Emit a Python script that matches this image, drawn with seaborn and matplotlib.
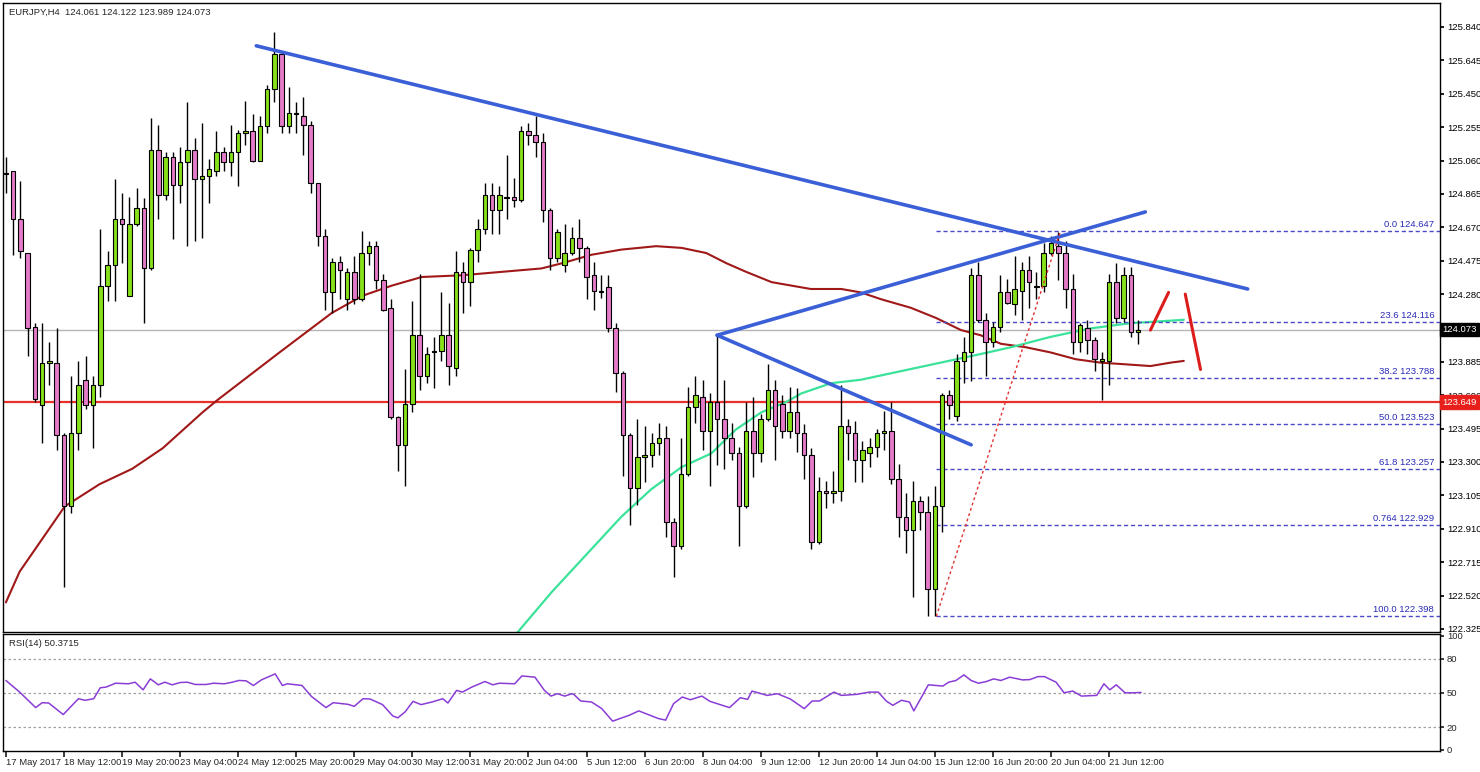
import matplotlib
matplotlib.use("Agg")
import matplotlib.pyplot as plt
import matplotlib.transforms as mtransforms
import seaborn as sns
import numpy as np
import pandas as pd

sns.set_theme(style="white")
plt.rcParams['font.family'] = ['Liberation Sans', 'DejaVu Sans']

opens = [124.99,125.00,124.72,124.52,124.09,123.63,123.88,123.88,123.46,123.04,123.47,123.78,123.63,123.75,124.33,124.45,124.72,124.27,124.69,124.78,
         124.43,125.12,124.86,125.08,124.92,125.05,125.12,124.95,124.97,125.00,125.11,125.05,125.11,125.22,125.23,125.06,125.26,125.48,125.68,125.26,
         125.34,125.32,125.27,124.93,124.62,124.29,124.47,124.25,124.41,124.25,124.52,124.56,124.36,124.20,123.56,123.40,123.64,124.04,123.80,123.95,
         123.95,124.04,123.85,124.41,124.35,124.54,124.66,124.86,124.77,124.85,124.85,124.83,125.23,125.21,125.17,124.77,124.49,124.45,124.52,124.61,
         124.55,124.39,124.30,124.32,124.08,123.82,123.46,123.15,123.33,123.34,123.41,123.44,122.95,122.81,123.23,123.62,123.68,123.48,123.65,123.55,
         123.44,123.35,123.04,123.48,123.35,123.55,123.72,123.64,123.48,123.59,123.47,123.34,122.83,123.13,123.12,123.13,123.51,123.47,123.31,123.35,
         123.39,123.47,123.48,123.20,122.98,122.90,123.07,123.01,122.56,123.04,123.69,123.57,123.89,123.94,124.39,124.13,124.00,124.09,124.29,124.22,
         124.30,124.42,124.33,124.33,124.52,124.56,124.52,124.31,124.00,124.08,124.01,123.89,123.89,124.35,124.14,124.39,124.06]
closes = [124.98,124.72,124.53,124.08,123.67,123.88,123.89,123.46,123.04,123.47,123.75,123.63,123.75,124.33,124.45,124.72,124.69,124.69,124.78,124.43,
          125.12,124.86,125.08,124.92,125.05,125.12,124.95,124.97,125.01,125.11,125.05,125.11,125.22,125.23,125.06,125.26,125.48,125.68,125.26,125.34,
          125.33,125.27,124.93,124.62,124.29,124.47,124.42,124.41,124.25,124.52,124.56,124.36,124.19,123.56,123.40,123.64,124.04,123.80,123.93,123.94,
          124.04,123.86,124.41,124.35,124.54,124.66,124.86,124.77,124.86,124.84,124.83,125.23,125.21,125.17,124.77,124.49,124.64,124.52,124.61,124.55,
          124.38,124.30,124.29,124.08,123.82,123.46,123.15,123.33,123.34,123.41,123.44,122.95,122.81,123.23,123.62,123.69,123.48,123.65,123.55,123.44,
          123.35,123.04,123.48,123.35,123.55,123.72,123.51,123.48,123.59,123.47,123.34,122.83,123.13,123.12,123.13,123.51,123.47,123.31,123.37,123.39,
          123.47,123.48,123.20,122.98,122.90,123.07,123.01,122.56,123.04,123.69,123.63,123.89,123.94,124.39,124.13,124.00,124.09,124.29,124.23,124.31,
          124.42,124.35,124.32,124.52,124.58,124.52,124.31,124.00,124.10,124.01,123.90,123.90,124.35,124.14,124.39,124.06,124.07]
highs = [125.08,125.00,124.94,124.52,124.11,124.11,124.00,124.08,123.47,123.80,123.89,123.92,123.80,124.66,124.53,124.95,124.87,124.85,124.90,124.84,
         125.31,125.27,125.11,125.11,125.14,125.40,125.19,125.28,125.07,125.23,125.14,125.27,125.24,125.41,125.33,125.32,125.50,125.81,125.69,125.49,
         125.40,125.43,125.29,124.93,124.66,124.49,124.50,124.43,124.50,124.65,124.59,124.59,124.40,124.25,123.57,123.84,124.24,124.40,123.97,124.03,
         124.29,124.23,124.53,124.47,124.55,124.72,124.93,124.93,124.91,125.09,124.96,125.26,125.28,125.32,125.22,124.78,124.66,124.69,124.67,124.72,
         124.56,124.47,124.39,124.39,124.11,123.83,123.47,123.55,123.51,123.47,123.53,123.51,122.97,123.44,123.74,123.80,123.78,123.70,124.04,123.78,
         123.53,123.39,123.65,123.68,123.58,123.87,123.78,123.69,123.74,123.73,123.52,123.38,123.21,123.19,123.25,123.75,123.55,123.54,123.42,123.44,
         123.49,123.60,123.65,123.29,123.12,123.19,123.10,123.10,123.16,123.70,123.72,123.93,124.03,124.43,124.47,124.17,124.12,124.39,124.37,124.50,
         124.47,124.50,124.41,124.58,124.62,124.64,124.59,124.40,124.11,124.13,124.03,123.94,124.40,124.46,124.44,124.44,124.13]
lows = [124.87,124.51,124.49,123.92,123.65,123.41,123.75,123.37,122.57,123.00,123.37,123.61,123.38,123.68,124.24,124.24,124.46,124.27,124.68,124.11,
        124.42,124.72,124.83,124.60,124.81,124.56,124.59,124.61,124.81,124.97,125.00,124.97,124.91,125.15,125.05,125.06,125.22,125.40,125.22,125.22,
        125.22,125.09,124.87,124.56,124.19,124.17,124.25,124.19,124.22,124.24,124.45,124.31,124.18,123.55,123.25,123.16,123.59,123.72,123.76,123.73,
        123.89,123.75,123.80,124.17,124.21,124.47,124.63,124.63,124.63,124.72,124.79,124.82,125.15,125.08,124.70,124.42,124.47,124.41,124.51,124.47,
        124.25,124.19,124.26,124.06,123.71,123.22,122.93,123.05,123.18,123.27,123.34,122.86,122.63,122.79,123.22,123.53,123.37,123.16,123.28,123.26,
        123.31,122.81,123.03,123.21,123.30,123.54,123.31,123.44,123.44,123.36,123.20,122.79,122.82,123.03,123.06,123.07,123.31,123.18,123.18,123.27,
        123.33,123.37,123.17,122.86,122.77,122.51,122.90,122.40,122.40,122.89,123.55,123.54,123.76,123.77,124.12,123.80,123.97,124.06,124.22,124.16,
        124.13,124.20,124.25,124.29,124.51,124.36,124.20,123.93,123.94,123.93,123.83,123.66,123.75,124.11,124.12,124.03,123.99]

ma_slow_idx = [0,1.9,8.1,12.9,17.4,21.6,27.1,29.1,37.4,44.9,49.1,53.2,57.3,62.8,68.3,73.8,76.6,80.7,84.8,89.6,93.1,96.5,99.3,102.0,105.5,
               110.9,115.1,117.8,120.6,124.7,128.2,131.6,134.3,137.1,140.5,143.9,147.4,150.8,154.3,157.7,160.5,162.3]
ma_slow = [122.48,122.66,123.04,123.17,123.26,123.38,123.59,123.66,123.93,124.17,124.27,124.33,124.38,124.39,124.41,124.43,124.46,124.51,124.54,124.56,
           124.55,124.52,124.46,124.41,124.35,124.31,124.31,124.29,124.25,124.20,124.14,124.07,124.04,123.99,123.97,123.94,123.90,123.88,123.87,123.86,123.88,123.89]
ma_fast_idx = [70.4,75.2,80.0,84.8,88.9,93.1,97.2,100.6,104.1,107.5,109.6,113.7,117.8,123.3,128.8,134.3,138.5,143.9,149.5,154.9,162.3]
ma_fast = [122.30,122.54,122.76,122.98,123.14,123.27,123.35,123.49,123.59,123.65,123.70,123.76,123.78,123.83,123.88,123.93,123.97,124.03,124.08,124.11,124.13]

rsi_idx = [0,1.9,4.1,5.0,5.9,7.9,10.0,10.9,12.1,13.0,13.8,15.1,16.9,17.8,18.9,19.9,21.0,21.9,22.9,24.0,25.0,26.1,27.6,28.6,30.1,31.2,32.1,33.1,
           34.1,35.2,37.1,38.1,38.8,40.8,42.1,44.1,45.1,47.1,48.0,49.2,50.2,51.9,53.3,54.0,55.0,56.1,57.2,58.7,60.2,60.9,62.1,62.9,64.2,66.0,67.1,68.0,
           70.1,71.1,72.9,74.2,75.1,76.0,77.0,78.0,78.3,79.2,80.7,82.1,83.6,85.9,87.2,89.9,90.9,92.0,93.2,94.3,95.9,97.0,99.7,101.2,102.2,102.8,
           104.9,106.3,108.1,110.0,111.1,112.1,114.1,115.1,117.2,119.0,120.2,121.3,122.2,123.4,124.5,125.1,127.1,129.1,129.9,130.9,132.0,133.0,134.0,
           135.1,136.1,137.1,138.3,140.1,141.1,142.2,143.1,144.7,145.8,147.0,148.2,150.3,151.3,152.1,153.0,154.2,155.3,156.4]
rsi_vals = [60.9,50.7,37.1,41.4,41.1,31.0,44.9,43.5,44.9,54.5,55.1,58.5,58.0,59.4,52.7,62.3,57.1,59.4,57.1,59.1,59.4,57.4,57.4,58.5,58.0,59.4,60.9,60.6,
            56.5,61.4,66.7,56.5,58.0,56.5,46.9,37.1,41.4,40.0,38.2,44.9,44.6,39.7,29.8,28.1,33.3,42.6,39.7,42.0,44.9,41.1,52.2,50.7,55.1,60.0,57.1,58.5,
            58.0,64.9,63.8,52.2,47.2,49.3,47.2,49.3,48.4,42.9,42.0,36.2,25.2,30.4,34.2,27.5,26.1,40.6,46.4,44.0,47.2,42.6,37.1,45.8,44.3,51.6,
            47.8,49.3,44.6,36.2,42.9,42.9,50.7,47.8,48.7,50.7,50.7,42.9,39.1,43.5,42.0,34.2,57.1,56.0,59.4,60.9,65.8,60.9,58.5,
            60.0,62.3,60.9,63.8,61.4,61.7,64.3,64.3,59.4,50.1,51.6,47.2,47.8,58.0,52.7,57.1,50.1,50.1,50.4]

date_labels = ["17 May 2017","18 May 12:00","19 May 20:00","23 May 04:00","24 May 12:00","25 May 20:00","29 May 04:00","30 May 12:00",
               "31 May 20:00","2 Jun 04:00","5 Jun 12:00","6 Jun 20:00","8 Jun 04:00","9 Jun 12:00","12 Jun 20:00","14 Jun 04:00",
               "15 Jun 12:00","16 Jun 20:00","20 Jun 04:00","21 Jun 12:00"]

price_ticks = [122.325,122.520,122.715,122.910,123.105,123.300,123.495,123.690,123.885,
               124.280,124.475,124.670,124.865,125.060,125.255,125.450,125.645,125.840]

fib_levels = [124.647,124.116,123.788,123.523,123.257,122.929,122.398]
fib_names = ["0.0","23.6","38.2","50.0","61.8","0.764","100.0"]
support_level = 123.649
last_price = 124.073
trend_lines = [((34.5,125.73),(171.1,124.31)), ((98.0,124.04),(157.0,124.76)), ((98.0,124.04),(133.0,123.40))]
fib_anchor = ((128.2,122.398),(145.3,124.647))
arrows = [((157.7,124.07),(160.2,124.29)), ((162.5,124.28),(164.6,123.84))]

df = pd.DataFrame({"o":opens,"h":highs,"l":lows,"c":closes})
df["i"] = np.arange(len(df))
df["up"] = df.c >= df.o

FS = 6.8
W, H = 1480, 772
fig = plt.figure(figsize=(W/100, H/100), dpi=100)
ax = fig.add_axes([3/W, 1-632/H, (1440-3)/W, 629/H])
ax2 = fig.add_axes([3/W, 1-751/H, (1440-3)/W, 117/H])

ax.axhline(last_price, color="#b4b4b4", lw=1, zorder=1)
ax.axhline(support_level, color="#e8302a", lw=1.6, zorder=1)

sns.lineplot(x=ma_slow_idx, y=ma_slow, ax=ax, color="#a01818", lw=1.5, zorder=2)
sns.lineplot(x=ma_fast_idx, y=ma_fast, ax=ax, color="#3be39a", lw=1.6, zorder=2)

ax.vlines(df.i, df.l, df.h, color="black", lw=1, zorder=3)
body = (df.c - df.o).abs().clip(lower=0.006)
ax.bar(df.i, body, bottom=df[["o","c"]].min(axis=1), width=0.62,
       color=np.where(df.up, "#86e01a", "#e47ac8"), edgecolor="black", lw=0.8, zorder=4)

for (a, b) in trend_lines:
    ax.plot([a[0], b[0]], [a[1], b[1]], color="#3a5fd6", lw=2.6, zorder=5, solid_capstyle="round")
ax.plot([fib_anchor[0][0], fib_anchor[1][0]], [fib_anchor[0][1], fib_anchor[1][1]], color="#e03030", lw=1, ls=(0,(2,2)), zorder=5)
for (a, b) in arrows:
    ax.plot([a[0], b[0]], [a[1], b[1]], color="#dd1c1c", lw=2.2, zorder=5)

xmax = 197.6
for lv, nm in zip(fib_levels, fib_names):
    ax.plot([fib_anchor[0][0], xmax], [lv, lv], color="#4a4ac8", lw=1, ls=(0,(3,2)), zorder=2)
    ax.text(196.8, lv+0.012, f"{nm} {lv:.3f}", color="#2a2ab8", fontsize=FS, ha="right", va="bottom", zorder=6)

ax.set_xlim(-0.4, xmax)
ax.set_ylim(122.307, 125.980)
ax.yaxis.tick_right()
ax.set_yticks(price_ticks)
ax.set_yticklabels([f"{v:.3f}" for v in price_ticks])
ax.tick_params(axis="y", direction="out", length=3, pad=2, colors="black", labelsize=FS)
ax.set_xticks([])
for s in ax.spines.values():
    s.set_color("black"); s.set_linewidth(1)

tr = mtransforms.blended_transform_factory(ax.transAxes, ax.transData)
ax.text(1.0015, last_price, f"{last_price:.3f}", transform=tr, fontsize=FS, color="white", va="center", ha="left",
        bbox=dict(boxstyle="square,pad=0.25", fc="black", ec="black"), zorder=10, clip_on=False)
ax.text(1.0015, support_level, f"{support_level:.3f}", transform=tr, fontsize=FS, color="white", va="center", ha="left",
        bbox=dict(boxstyle="square,pad=0.25", fc="#e8201c", ec="#e8201c"), zorder=10, clip_on=False)
ax.text(0.004, 0.993, "EURJPY,H4  124.061 124.122 123.989 124.073", transform=ax.transAxes, fontsize=FS, va="top", ha="left")

for lv in [80, 50, 20]:
    ax2.axhline(lv, color="#a0a0a0", lw=0.9, ls=(0,(2,2)))
sns.lineplot(x=rsi_idx, y=rsi_vals, ax=ax2, color="#8a3dd6", lw=1.1)
ax2.set_xlim(-0.4, xmax)
ax2.set_ylim(-1, 101.7)
ax2.yaxis.tick_right()
ax2.set_yticks([100, 80, 50, 20, 0])
ax2.set_yticklabels(["100", "80", "50", "20", "0"])
ax2.tick_params(axis="y", direction="out", length=3, pad=2, labelsize=FS)
ax2.set_xticks([8*k for k in range(20)])
ax2.set_xticklabels(date_labels)
ax2.tick_params(axis="x", direction="out", length=4, pad=1, labelsize=FS, bottom=True)
for lab in ax2.get_xticklabels():
    lab.set_horizontalalignment("left")
ax2.text(0.004, 0.96, "RSI(14) 50.3715", transform=ax2.transAxes, fontsize=FS, va="top", ha="left")
for s in ax2.spines.values():
    s.set_color("black"); s.set_linewidth(1)

fig.savefig("out.png", dpi=100, facecolor="white")
